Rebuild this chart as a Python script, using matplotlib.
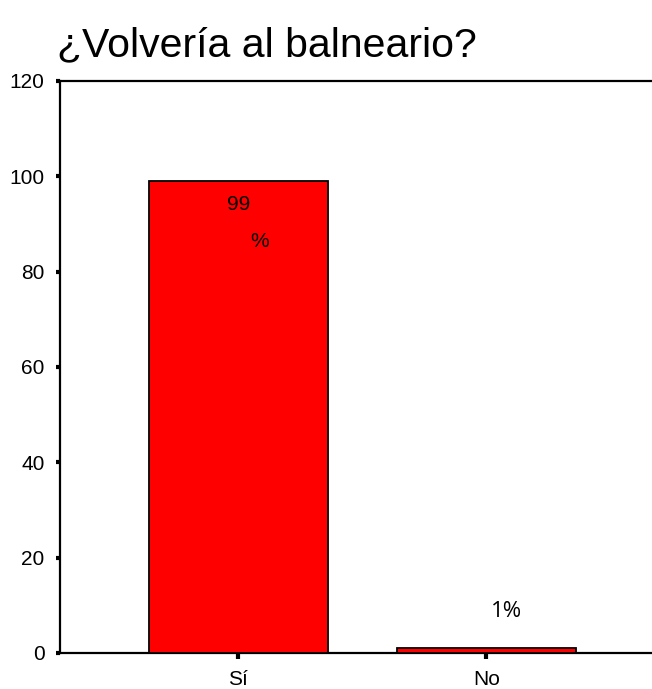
import matplotlib
matplotlib.use("Agg")
import matplotlib.pyplot as plt

categories = ["Sí", "No"]
values = [99, 1]
yticks = [0, 20, 40, 60, 80, 100, 120]

fig = plt.figure(figsize=(6.52, 6.89), dpi=100)
ax = fig.add_axes([60/652, 1-653/689, 1-60/652+0.002, (653-81)/689])

x = list(range(len(categories)))
ax.bar(x, values, width=0.72, color="#ff0000", edgecolor="black", linewidth=1.3, zorder=3)

ax.set_xlim(-0.718, 1.672)
ax.set_ylim(0, 120)
ax.set_yticks(yticks)
ax.set_yticklabels([str(t) for t in yticks], fontsize=15, family="Liberation Sans")
ax.set_xticks(x)
ax.set_xticklabels(categories, fontsize=15, family="Liberation Sans")
ax.tick_params(axis="y", direction="out", length=3, width=3, pad=8)
ax.tick_params(axis="x", direction="out", length=4, width=3, pad=8)

for s in ["left", "bottom", "top"]:
    ax.spines[s].set_linewidth(1.6)
ax.spines["right"].set_visible(False)

ax.text(x[0], 94.0, "99", ha="center", va="center", fontsize=15, family="Liberation Sans")
ax.text(x[0] + 0.085, 86.4, "%", ha="center", va="center", fontsize=15, family="Liberation Sans")
ax.text(x[1] + 0.08, 8.7, f"{values[1]}%", ha="center", va="center", fontsize=16, family="Open Sans")

fig.text(57/652, 1-45/689, "¿Volvería al balneario?", ha="left", va="center", fontsize=29.5, family="Liberation Sans")

fig.savefig("out.png", dpi=100)
